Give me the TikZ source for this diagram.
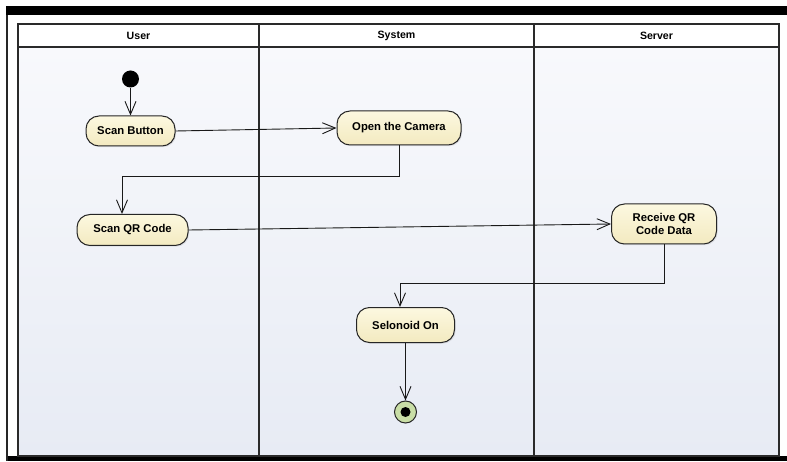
\documentclass[tikz,border=0pt]{standalone}
\usepackage{fontspec}
\setmainfont{Liberation Sans}
\usetikzlibrary{arrows.meta,shadows}
\definecolor{nodefillA}{HTML}{FCF8E0}
\definecolor{nodefillB}{HTML}{F3EAC0}
\definecolor{lanetop}{HTML}{F8F9FC}
\definecolor{lanebot}{HTML}{E7EBF4}
\definecolor{framec}{HTML}{2A2A2A}
\definecolor{finalfill}{HTML}{C9DEA6}
\tikzset{
  act/.style={draw=black!85, line width=1pt, rounded corners=13pt,
    top color=nodefillA, bottom color=nodefillB, align=center,
    font=\fontsize{11.3}{13}\selectfont\bfseries, inner sep=0pt,
    drop shadow={opacity=0.18, shadow xshift=1.2pt, shadow yshift=-1.2pt}},
  flow/.style={draw=black!90, line width=0.9pt, -{Straight Barb[length=13pt,width=11pt,line width=0.9pt]}},
  lanehead/.style={font=\fontsize{10.6}{12}\selectfont\bfseries},
  lanediv/.style={draw=framec, line width=1.2pt}
}
\begin{document}
\begin{tikzpicture}[x=1pt,y=1pt]
\useasboundingbox (0,0) rectangle (787,461);
\fill[white] (0,0) rectangle (787,461);
% outer screenshot bars
\fill[black] (6,446) rectangle (787,455);
\fill[black] (6,0) rectangle (787,5);
\draw[black!85, line width=2pt] (6.5,0) -- (6.5,446);
% lanes
\shade[top color=lanetop, bottom color=lanebot] (18,5) rectangle (779,414);
\fill[white] (18,414) rectangle (779,437);
\draw[framec, line width=1.5pt] (18,5) rectangle (779,437);
\draw[lanediv] (18,414) -- (779,414);
\draw[lanediv] (259,5) -- (259,437);
\draw[lanediv] (534,5) -- (534,437);
\node[lanehead] (hUser) at (138.5,425.5) {User};
\node[lanehead] (hSystem) at (396.5,425.5) {System};
\node[lanehead] (hServer) at (656.5,425.5) {Server};
% nodes
\node[circle, fill=black, inner sep=0pt, minimum size=17pt] (init) at (130.5,382) {};
\node[act, minimum width=89pt, minimum height=30pt] (scanbtn) at (130.5,330) {Scan Button};
\node[act, minimum width=124pt, minimum height=34pt] (opencam) at (399,333) {Open the Camera};
\node[act, minimum width=111pt, minimum height=31pt] (scanqr) at (132.5,231) {Scan QR Code};
\node[act, minimum width=105pt, minimum height=40pt] (recv) at (664,237) {Receive QR\\Code Data};
\node[act, minimum width=98pt, minimum height=35pt] (sel) at (405.5,136) {Selonoid On};
\node[circle, draw=black!85, line width=1pt, fill=finalfill, inner sep=0pt, minimum size=22pt] (final) at (405.5,49) {};
\node[circle, fill=black, inner sep=0pt, minimum size=10pt] (finaldot) at (final.center) {};
\coordinate (k1) at (122,285);
\coordinate (k2) at (400,178);
% connectors
\draw[flow] (init) -- (scanbtn.north);
\draw[flow] (scanbtn.east) -- (opencam.west);
\draw[flow] (opencam.south) |- (k1) -- (k1 |- scanqr.north);
\draw[flow] (scanqr.east) -- (recv.west);
\draw[flow] (recv.south) |- (k2) -- (k2 |- sel.north);
\draw[flow] (sel.south) -- (final.north);
\end{tikzpicture}
\end{document}
